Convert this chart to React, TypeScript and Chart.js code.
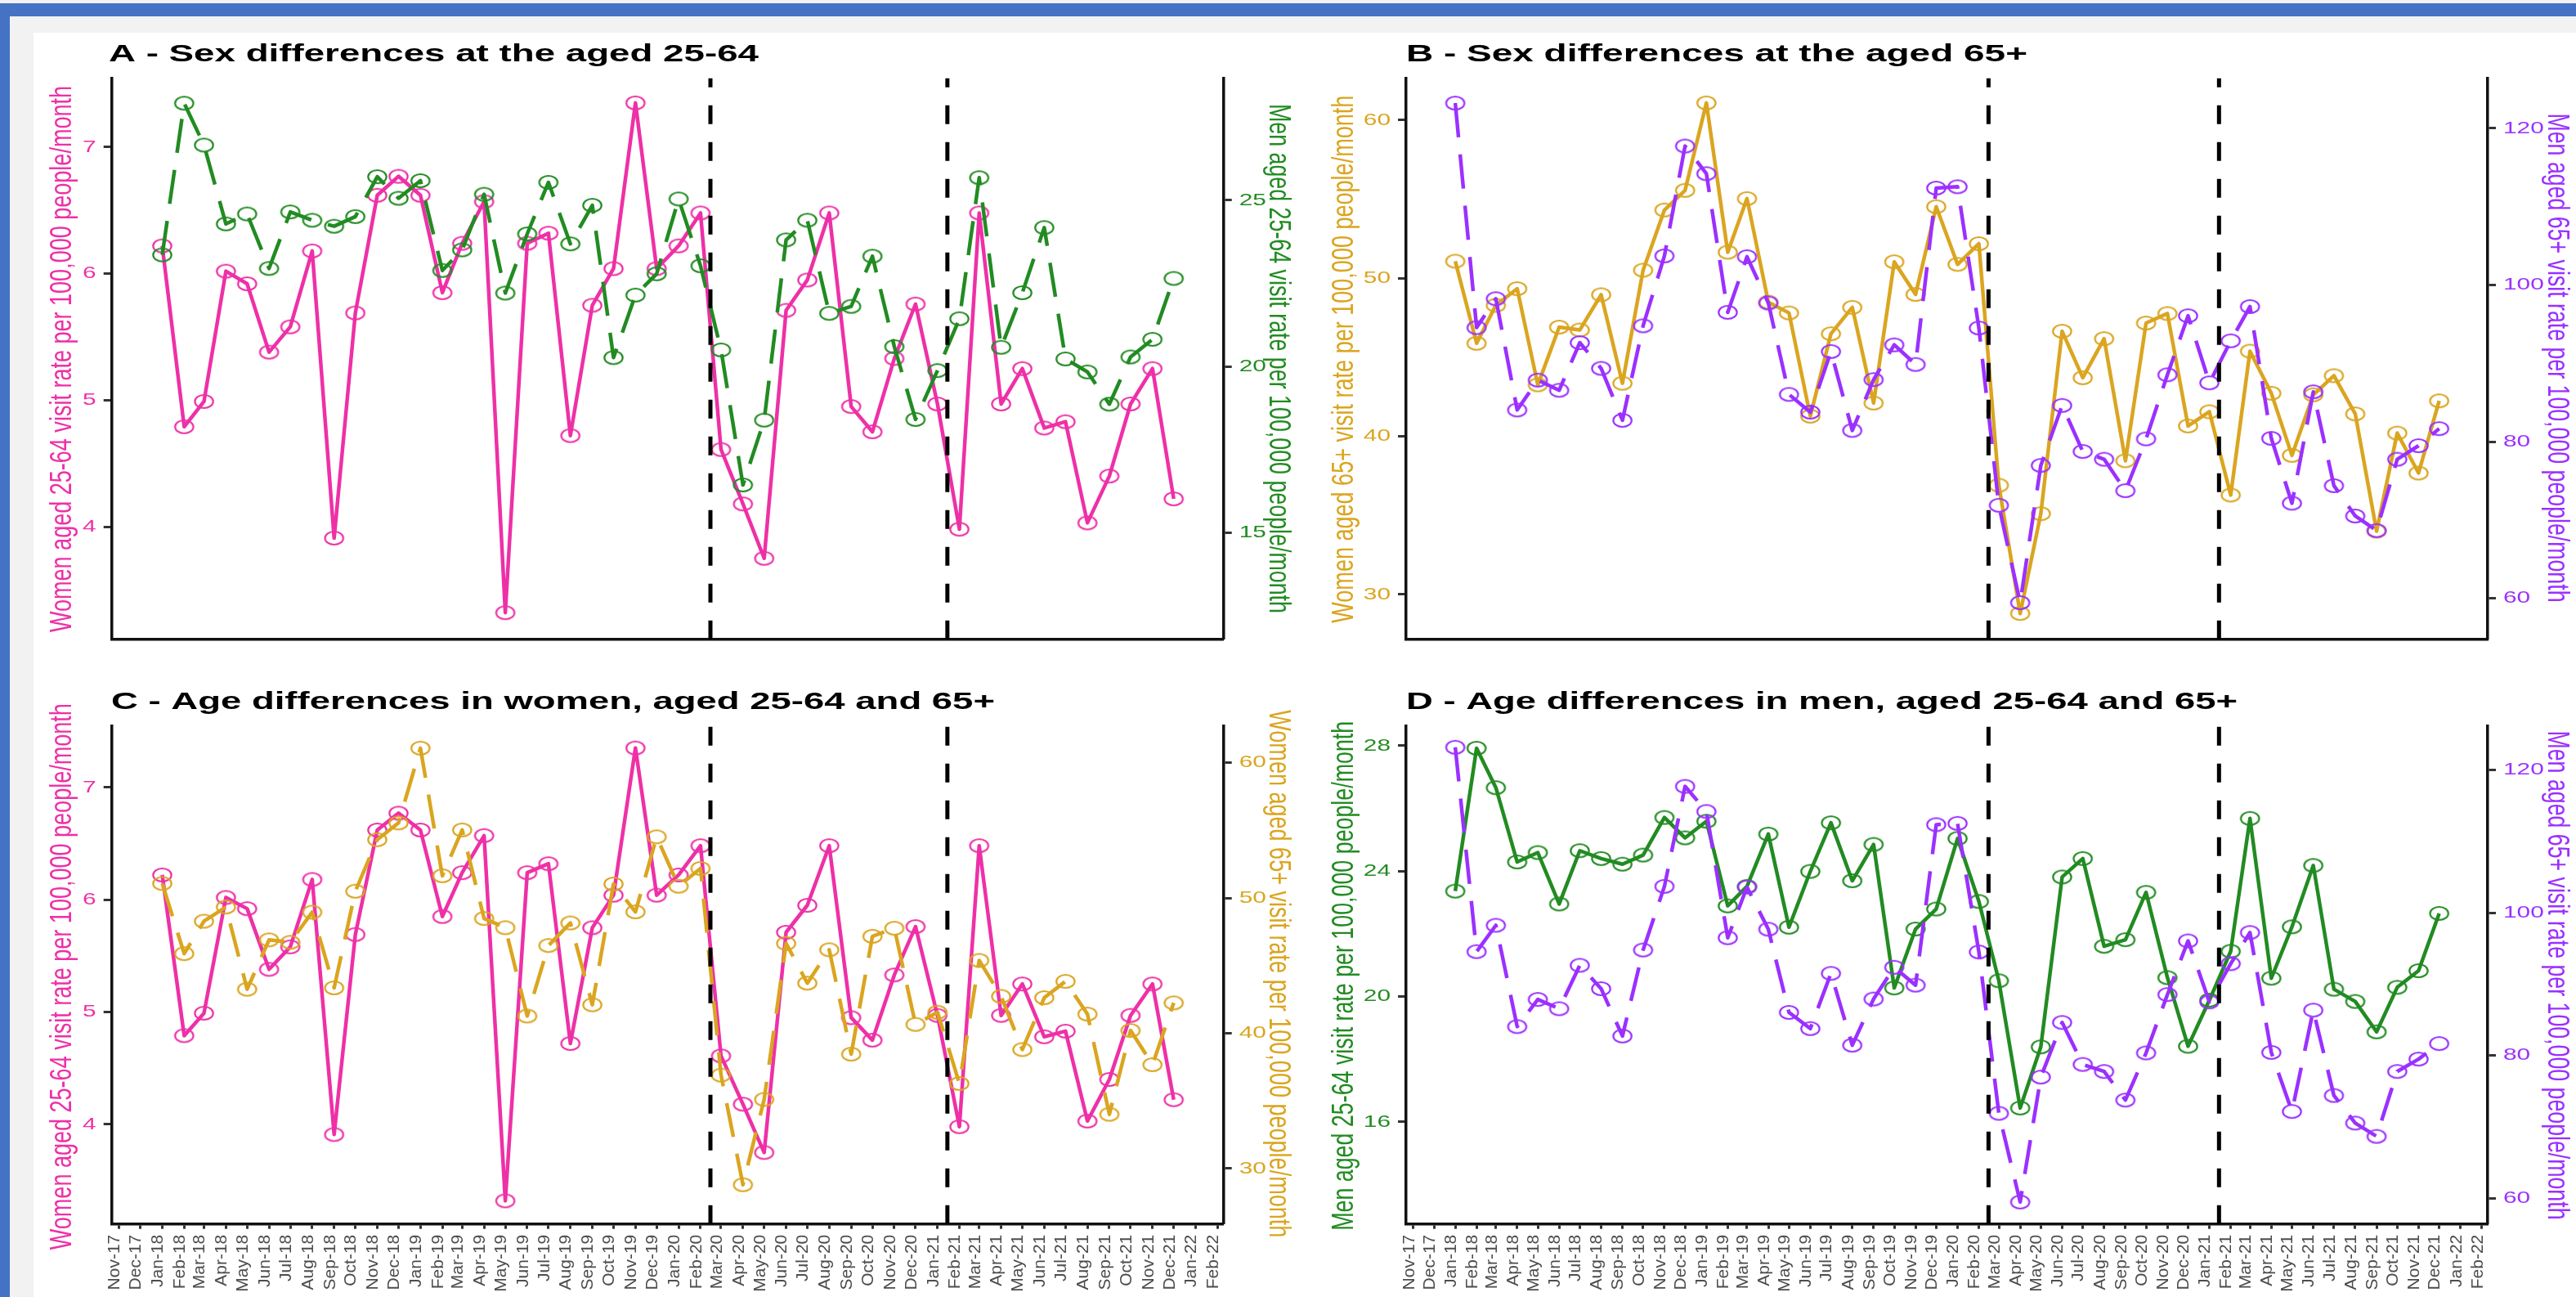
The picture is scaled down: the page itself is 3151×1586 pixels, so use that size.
import React, { useEffect, useRef } from 'react';
import { Chart, registerables } from 'chart.js';

Chart.register(...registerables);

const PAGE_W = 3151;
const PAGE_H = 1586;
const FONT = '"Liberation Sans", Arial, Helvetica, sans-serif';

// ---------- data ----------
const monthLabels = [
  'Nov-17', 'Dec-17',
  'Jan-18', 'Feb-18', 'Mar-18', 'Apr-18', 'May-18', 'Jun-18', 'Jul-18', 'Aug-18', 'Sep-18', 'Oct-18', 'Nov-18', 'Dec-18',
  'Jan-19', 'Feb-19', 'Mar-19', 'Apr-19', 'May-19', 'Jun-19', 'Jul-19', 'Aug-19', 'Sep-19', 'Oct-19', 'Nov-19', 'Dec-19',
  'Jan-20', 'Feb-20', 'Mar-20', 'Apr-20', 'May-20', 'Jun-20', 'Jul-20', 'Aug-20', 'Sep-20', 'Oct-20', 'Nov-20', 'Dec-20',
  'Jan-21', 'Feb-21', 'Mar-21', 'Apr-21', 'May-21', 'Jun-21', 'Jul-21', 'Aug-21', 'Sep-21', 'Oct-21', 'Nov-21', 'Dec-21',
  'Jan-22', 'Feb-22',
];
// series start at Jan-18 (index 2 of monthLabels) and run to Dec-21
const firstDataIndex = 2;

const womenYoung = [
  6.22, 4.79, 4.99, 6.02, 5.92, 5.38, 5.58, 6.18, 3.91, 5.69, 6.62, 6.77,
  6.62, 5.85, 6.24, 6.57, 3.32, 6.24, 6.32, 4.72, 5.75, 6.04, 7.35, 6.04,
  6.22, 6.48, 4.61, 4.18, 3.75, 5.71, 5.95, 6.48, 4.95, 4.75, 5.33, 5.76,
  4.97, 3.98, 6.48, 4.97, 5.25, 4.78, 4.83, 4.03, 4.40, 4.97, 5.25, 4.22,
];
const menYoung = [
  23.36, 27.92, 26.66, 24.29, 24.59, 22.95, 24.65, 24.40, 24.22, 24.51, 25.71, 25.06,
  25.59, 22.89, 23.51, 25.18, 22.21, 23.99, 25.54, 23.69, 24.85, 20.27, 22.15, 22.79,
  25.04, 23.03, 20.50, 16.44, 18.39, 23.81, 24.40, 21.60, 21.81, 23.32, 20.60, 18.41,
  19.88, 21.44, 25.68, 20.58, 22.22, 24.18, 20.23, 19.84, 18.87, 20.29, 20.82, 22.65,
];
const womenOld = [
  51.07, 45.88, 48.28, 49.33, 43.25, 46.9, 46.72, 48.95, 43.35, 50.5, 54.31, 55.55,
  61.08, 51.64, 55.03, 48.48, 47.8, 41.27, 46.48, 48.15, 42.1, 51.03, 48.97, 54.52,
  50.87, 52.18, 36.9, 28.79, 35.1, 46.64, 43.7, 46.17, 38.45, 47.16, 47.76, 40.65,
  41.55, 36.28, 45.38, 42.72, 38.79, 42.62, 43.83, 41.41, 34.0, 40.2, 37.67, 42.24,
];
const menOld = [
  123.2, 94.55, 98.24, 84.04, 87.85, 86.55, 92.63, 89.35, 82.72, 94.78, 103.7, 117.72,
  114.2, 96.5, 103.6, 97.69, 86.03, 83.76, 91.5, 81.43, 87.91, 92.35, 89.85, 112.35,
  112.53, 94.5, 71.88, 59.45, 76.96, 84.62, 78.74, 77.75, 73.74, 80.35, 88.53, 96.06,
  87.5, 92.86, 97.23, 80.42, 72.14, 86.35, 74.38, 70.51, 68.65, 77.75, 79.48, 81.66,
];

const ticksWomenYoung = [4, 5, 6, 7];
const ticksMenYoungA = [15, 20, 25];
const ticksMenYoungD = [16, 20, 24, 28];
const ticksWomenOld = [30, 40, 50, 60];
const ticksMenOld = [60, 80, 100, 120];

const interventionDates = ['2020-02-15', '2021-01-15'];

const titleWomenYoung = 'Women aged 25-64 visit rate per 100,000 people/month';
const titleMenYoung = 'Men aged 25-64 visit rate per 100,000 people/month';
const titleWomenOld = 'Women aged 65+ visit rate per 100,000 people/month';
const titleMenOld = 'Men aged 65+ visit rate per 100,000 people/month';

// ---------- styles ----------
const PINK = '#EE30A7';
const GREEN = '#228B22';
const GOLD = '#DAA520';
const PURPLE = '#9B30FF';

const ORIGIN = Date.UTC(2017, 10, 1);
const dayOfMonthIndex = (k: number) => (Date.UTC(2017, 10 + k, 1) - ORIGIN) / 86400000;
const dayOfDate = (s: string) => {
  const [y, m, d] = s.split('-').map(Number);
  return (Date.UTC(y, m - 1, d) - ORIGIN) / 86400000;
};
const X_MIN = -10.4;
const X_MAX = 1561.5;

type AxisCfg = {
  values: number[];
  color: string;
  min: number;
  max: number;
  ticks: number[];
  title: string;
  titleBaseX: number;
  titleCenterY: number;
  titleLen: number;
};
type PanelCfg = {
  title: string;
  titleX: number;
  titleBaseline: number;
  titleWidth: number;
  area: { l: number; t: number; r: number; b: number };
  showX: boolean;
  left: AxisCfg;
  right: AxisCfg;
};

const panels: PanelCfg[] = [
  {
    title: 'A - Sex differences at the aged 25-64',
    titleX: 133, titleBaseline: 75, titleWidth: 795,
    area: { l: 136.7, t: 95.7, r: 1496.7, b: 781.7 },
    showX: false,
    left: { values: womenYoung, color: PINK, min: 3.11, max: 7.545, ticks: ticksWomenYoung, title: titleWomenYoung, titleBaseX: 87, titleCenterY: 439, titleLen: 668 },
    right: { values: menYoung, color: GREEN, min: 11.8, max: 28.67, ticks: ticksMenYoungA, title: titleMenYoung, titleBaseX: 1553, titleCenterY: 438.4, titleLen: 623 },
  },
  {
    title: 'B - Sex differences at the aged 65+',
    titleX: 1720, titleBaseline: 75, titleWidth: 760,
    area: { l: 1720, t: 95.7, r: 3043, b: 781.7 },
    showX: false,
    left: { values: womenOld, color: GOLD, min: 27.16, max: 62.64, ticks: ticksWomenOld, title: titleWomenOld, titleBaseX: 1655, titleCenterY: 439.2, titleLen: 645 },
    right: { values: menOld, color: PURPLE, min: 54.78, max: 126.37, ticks: ticksMenOld, title: titleMenOld, titleBaseX: 3117, titleCenterY: 437.5, titleLen: 598 },
  },
  {
    title: 'C - Age differences in women, aged 25-64 and 65+',
    titleX: 136, titleBaseline: 867, titleWidth: 1081,
    area: { l: 136.7, t: 887.7, r: 1496.7, b: 1496.7 },
    showX: true,
    left: { values: womenYoung, color: PINK, min: 3.114, max: 7.546, ticks: ticksWomenYoung, title: titleWomenYoung, titleBaseX: 87, titleCenterY: 1194.2, titleLen: 668 },
    right: { values: womenOld, color: GOLD, min: 25.89, max: 62.72, ticks: ticksWomenOld, title: titleWomenOld, titleBaseX: 1553, titleCenterY: 1190.8, titleLen: 645 },
  },
  {
    title: 'D - Age differences in men, aged 25-64 and 65+',
    titleX: 1720, titleBaseline: 867, titleWidth: 1017,
    area: { l: 1720, t: 887.7, r: 3043, b: 1496.7 },
    showX: true,
    left: { values: menYoung, color: GREEN, min: 12.74, max: 28.63, ticks: ticksMenYoungD, title: titleMenYoung, titleBaseX: 1655, titleCenterY: 1193.3, titleLen: 623 },
    right: { values: menOld, color: PURPLE, min: 56.37, max: 126.19, ticks: ticksMenOld, title: titleMenOld, titleBaseX: 3117, titleCenterY: 1192.5, titleLen: 598 },
  },
];

const Y_SCALE_W = 60;

function makeEllipse(color: string): HTMLCanvasElement {
  const c = document.createElement('canvas');
  c.width = 27;
  c.height = 20;
  const g = c.getContext('2d')!;
  g.strokeStyle = color;
  g.lineWidth = 2.2;
  g.beginPath();
  g.ellipse(13.5, 10, 11.2, 8, 0, 0, Math.PI * 2);
  g.stroke();
  return c;
}

function toPoints(values: number[]) {
  return values.map((v, i) => ({ x: dayOfMonthIndex(i + firstDataIndex), y: v }));
}

function drawRotatedTitle(ctx: CanvasRenderingContext2D, text: string, baseX: number, cy: number, len: number, rot: number, color: string) {
  ctx.save();
  ctx.font = `36px ${FONT}`;
  const m = ctx.measureText(text).width;
  ctx.translate(baseX, cy);
  ctx.rotate(rot);
  ctx.scale(len / m, 1);
  ctx.fillStyle = color;
  ctx.textAlign = 'center';
  ctx.textBaseline = 'alphabetic';
  ctx.fillText(text, 0, 0);
  ctx.restore();
}

function makePanelPlugin(p: PanelCfg) {
  return {
    id: 'panelDecor',
    afterDatasetsDraw(chart: any) {
      const ctx: CanvasRenderingContext2D = chart.ctx;
      const area = chart.chartArea;
      const xs = chart.scales.x;
      ctx.save();
      ctx.strokeStyle = '#000000';
      ctx.lineWidth = 5;
      ctx.setLineDash([23, 22]);
      interventionDates.forEach((d) => {
        const x = xs.getPixelForValue(dayOfDate(d));
        ctx.beginPath();
        ctx.moveTo(x, area.bottom);
        ctx.lineTo(x, area.top);
        ctx.stroke();
      });
      ctx.restore();
    },
    afterDraw(chart: any) {
      const ctx: CanvasRenderingContext2D = chart.ctx;
      const area = chart.chartArea;
      // panel title
      ctx.save();
      ctx.font = `bold 30px ${FONT}`;
      const tw = ctx.measureText(p.title).width;
      ctx.translate(p.titleX, p.titleBaseline);
      ctx.scale(p.titleWidth / tw, 1);
      ctx.fillStyle = '#000000';
      ctx.textBaseline = 'alphabetic';
      ctx.textAlign = 'left';
      ctx.fillText(p.title, 0, 0);
      ctx.restore();

      // y tick labels
      const drawTicks = (scaleId: string, cfg: AxisCfg, side: 'left' | 'right') => {
        const s = chart.scales[scaleId];
        cfg.ticks.forEach((v) => {
          const y = s.getPixelForValue(v);
          ctx.save();
          ctx.font = `21px ${FONT}`;
          ctx.fillStyle = cfg.color;
          ctx.textBaseline = 'middle';
          const x = side === 'left' ? area.left - 19 : area.right + 19;
          ctx.translate(x, y);
          ctx.scale(1.42, 1);
          ctx.textAlign = side === 'left' ? 'right' : 'left';
          ctx.fillText(String(v), 0, 0);
          ctx.restore();
        });
      };
      drawTicks('y', p.left, 'left');
      drawTicks('y1', p.right, 'right');

      drawRotatedTitle(ctx, p.left.title, p.left.titleBaseX, p.left.titleCenterY, p.left.titleLen, -Math.PI / 2, p.left.color);
      drawRotatedTitle(ctx, p.right.title, p.right.titleBaseX, p.right.titleCenterY, p.right.titleLen, Math.PI / 2, p.right.color);
    },
  };
}

function buildChart(canvas: HTMLCanvasElement, p: PanelCfg) {
  const axisBorder = { display: true, color: '#111111', width: 3.5 };
  const yGrid = { display: true, drawOnChartArea: false, drawTicks: true, tickLength: 10, tickWidth: 3, tickColor: '#333333' };
  const xScaleH = p.showX ? PAGE_H - p.area.b : 10;
  return new Chart(canvas, {
    type: 'line',
    data: {
      datasets: [
        {
          label: p.right.title,
          data: toPoints(p.right.values),
          yAxisID: 'y1',
          borderColor: p.right.color,
          backgroundColor: p.right.color,
          borderWidth: 4.5,
          borderDash: [42, 21],
          borderJoinStyle: 'round',
          pointStyle: makeEllipse(p.right.color) as any,
          pointRadius: 9,
          tension: 0,
          fill: false,
        },
        {
          label: p.left.title,
          data: toPoints(p.left.values),
          yAxisID: 'y',
          borderColor: p.left.color,
          backgroundColor: p.left.color,
          borderWidth: 4.5,
          borderJoinStyle: 'round',
          pointStyle: makeEllipse(p.left.color) as any,
          pointRadius: 9,
          tension: 0,
          fill: false,
        },
      ],
    } as any,
    options: {
      responsive: false,
      animation: false,
      devicePixelRatio: 1,
      events: [],
      layout: {
        padding: {
          left: p.area.l - Y_SCALE_W,
          right: PAGE_W - p.area.r - Y_SCALE_W,
          top: p.area.t,
          bottom: Math.max(0, PAGE_H - p.area.b - xScaleH),
        },
      },
      plugins: {
        legend: { display: false },
        tooltip: { enabled: false },
        title: { display: false },
      },
      scales: {
        x: {
          type: 'linear',
          min: X_MIN,
          max: X_MAX,
          afterBuildTicks: (s: any) => {
            s.ticks = monthLabels.map((_, k) => ({ value: dayOfMonthIndex(k) }));
          },
          afterFit: (s: any) => {
            s.height = xScaleH;
          },
          ticks: {
            display: p.showX,
            autoSkip: false,
            maxRotation: 90,
            minRotation: 90,
            padding: 7,
            labelOffset: -5,
            color: '#4D4D4D',
            font: { family: FONT, size: 21 },
            callback: (_v: any, i: number) => monthLabels[i],
          },
          grid: { display: true, drawOnChartArea: false, drawTicks: p.showX, tickLength: 6, tickWidth: 3, tickColor: '#333333' },
          border: axisBorder,
        },
        y: {
          type: 'linear',
          position: 'left',
          min: p.left.min,
          max: p.left.max,
          afterBuildTicks: (s: any) => {
            s.ticks = p.left.ticks.map((v) => ({ value: v }));
          },
          afterFit: (s: any) => {
            s.width = Y_SCALE_W;
          },
          ticks: { display: false },
          grid: yGrid,
          border: axisBorder,
        },
        y1: {
          type: 'linear',
          position: 'right',
          min: p.right.min,
          max: p.right.max,
          afterBuildTicks: (s: any) => {
            s.ticks = p.right.ticks.map((v) => ({ value: v }));
          },
          afterFit: (s: any) => {
            s.width = Y_SCALE_W;
          },
          ticks: { display: false },
          grid: yGrid,
          border: axisBorder,
        },
      },
    } as any,
    plugins: [makePanelPlugin(p) as any],
  });
}

export default function App() {
  const refs = useRef<(HTMLCanvasElement | null)[]>([]);

  useEffect(() => {
    const charts = panels.map((p, i) => buildChart(refs.current[i]!, p));
    return () => charts.forEach((c) => c.destroy());
  }, []);

  return (
    <div style={{ position: 'fixed', left: 0, top: 0, width: PAGE_W, height: PAGE_H, overflow: 'hidden', background: '#F2F2F2' }}>
      <div style={{ position: 'absolute', left: 0, top: 4, width: PAGE_W, height: 16, background: '#4472C4' }} />
      <div style={{ position: 'absolute', left: 0, top: 4, width: 12, height: PAGE_H - 4, background: '#4472C4' }} />
      <div style={{ position: 'absolute', left: 41, top: 40, width: PAGE_W - 41, height: PAGE_H - 40, background: '#FFFFFF' }} />
      {panels.map((p, i) => (
        <canvas
          key={p.title}
          ref={(el) => {
            refs.current[i] = el;
          }}
          width={PAGE_W}
          height={PAGE_H}
          style={{ position: 'absolute', left: 0, top: 0, width: PAGE_W, height: PAGE_H }}
        />
      ))}
    </div>
  );
}
